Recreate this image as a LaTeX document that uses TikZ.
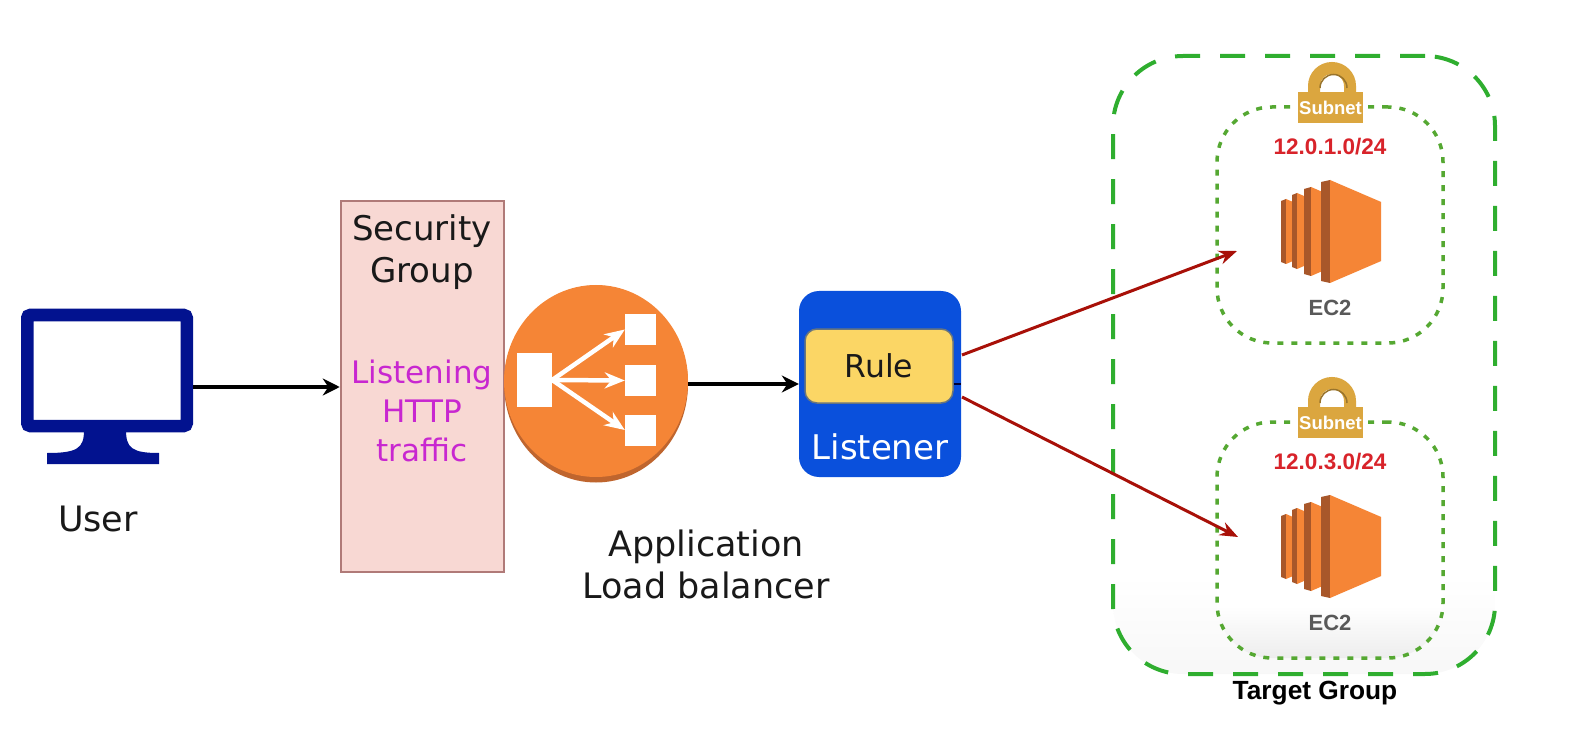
\documentclass[tikz,border=0pt]{standalone}
\usepackage{fontspec}
\setmainfont{DejaVu Sans}
\newfontfamily\labelfont{Liberation Sans}
\usetikzlibrary{shapes,shapes.geometric,arrows.meta,positioning}
\definecolor{monitorblue}{HTML}{02128F}
\definecolor{sgfill}{HTML}{F8D8D3}
\definecolor{sgline}{HTML}{B07A78}
\definecolor{sgtext}{HTML}{C827D0}
\definecolor{awsorange}{HTML}{F58536}
\definecolor{awsdark}{HTML}{A8572A}
\definecolor{listenerblue}{HTML}{0A50DC}
\definecolor{ruleyellow}{HTML}{FBD665}
\definecolor{lockgold}{HTML}{DBA63F}
\definecolor{tggreen}{HTML}{2FAE2F}
\definecolor{subnetgreen}{HTML}{55A832}
\definecolor{cidrred}{HTML}{D8232A}
\definecolor{linkred}{HTML}{A81008}
\pgfdeclareverticalshading{subnetclear}{100bp}{color(0bp)=(white); color(100bp)=(white)}
\pgfdeclareverticalshading{subnetfade}{100bp}{color(0bp)=(black!7); color(25bp)=(black!7); color(36bp)=(white); color(100bp)=(white)}
\pgfdeclareverticalshading{groupfade}{100bp}{color(0bp)=(black!3); color(25bp)=(black!3); color(33bp)=(white); color(100bp)=(white)}

\begin{document}
\begin{tikzpicture}
	[x=1pt,y=-1pt,every node/.style={inner sep=0pt},
	label34/.style={font=\fontsize{34}{42}\selectfont,text=black!90,align=center},
	label31/.style={font=\fontsize{31}{39}\selectfont,text=sgtext,align=center},
	blackarrow/.style={-{Stealth[length=17pt,width=17pt]},line width=3.2pt,black},
	redarrow/.style={-{Stealth[length=18pt,width=14pt]},line width=3pt,linkred},
	whitearrow/.style={-{Stealth[length=20pt,width=16pt]},line width=4.5pt,white},
	whitebox/.style={fill=white,minimum width=31pt,minimum height=31pt}]
	\useasboundingbox (0,0) rectangle (1582,751);
	% user
	\node (user) [draw=monitorblue,line width=12.5pt,rounded corners=3pt,minimum width=159.5pt,
		minimum height=111pt] at (107,370.5) {};
	\fill[monitorblue] (84,430) .. controls (84,448) and (78,453) .. (47,453) -- (47,464) -- (159,464)
		-- (159,453) .. controls (132,453) and (126,448) .. (126,430) -- cycle;
	\node (username) [label34,font=\fontsize{35}{42}\selectfont] at (98,519) {User};
	% security group
	\node (sg) [draw=sgline,fill=sgfill,line width=2.5pt,minimum width=163pt,minimum height=371pt] at (422.5,386.5) {};
	\node (sgname) [label34] at (422,252) {Security\\Group};
	\node (sgnote) [label31] at (422,411) {Listening\\HTTP\\traffic};
	\coordinate (sgin) at (sg.west |- 0,387);
	% load balancer
	\node (alb) [ellipse,fill=awsdark!70!awsorange,minimum width=184pt,minimum height=197pt] at (596,384) {};
	\node (albface) [ellipse,fill=awsorange,minimum width=184pt,minimum height=192pt] at (596,381) {};
	\node (albsrc) [whitebox,minimum width=35pt,minimum height=54pt] at (534.5,380) {};
	\node (albtop) [whitebox] at (640.5,329.5) {};
	\node (albmid) [whitebox] at (640.5,380.5) {};
	\node (albbot) [whitebox] at (640.5,430) {};
	\foreach \endNode in {albtop,albmid,albbot}
		\draw[whitearrow] (albsrc.east) -- (\endNode.west);
	\node (albname) [label34,font=\fontsize{35}{42}\selectfont] at (706,564) {Application\\Load balancer};
	% listener
	\node (listener) [fill=listenerblue,rounded corners=20pt,minimum width=162pt,minimum height=186pt] at (880,384) {};
	\node (rule) [draw=black!35!listenerblue!60!ruleyellow,fill=ruleyellow,line width=1.5pt,rounded corners=12pt,
		minimum width=148pt,minimum height=74pt] at (879,366) {};
	\node (rulename) [label34,font=\fontsize{31.5}{38}\selectfont] at (879,366) {Rule};
	\node (listenername) [label34,text=white] at (880,447) {Listener};
	\coordinate (rulestub) at (rule.east |- 0,384);
	\draw[line width=2.5pt,black!80!blue] (rulestub) -- (listener.east |- rulestub);
	% links in front
	\draw[blackarrow] (user.east |- sgin) -- (sgin);
	\draw[blackarrow] (alb.east) -- (listener.west);
	% target group
	\node (tg) [draw=tggreen,line width=4pt,dash pattern=on 25pt off 20pt,rounded corners=70pt,shading=groupfade,
		minimum width=382pt,minimum height=618pt] at (1304,365) {};
	\node (tgname) [font=\labelfont\bfseries\fontsize{26.3}{30}\selectfont] at (1315,693) {Target Group};
	% subnets
	\foreach \subnetId/\yOff/\netPart/\fadeName in {a/0/1/subnetclear,b/315/3/subnetfade}
	{
		\begin{scope}[shift={(0,\yOff)}]
			\node (subnet\subnetId) [draw=subnetgreen,line width=3.5pt,dash pattern=on 6pt off 8pt,rounded corners=55pt,
				shading=\fadeName,minimum width=226pt,minimum height=236pt] at (1330,225) {};
			\draw[lockgold,line width=12pt] (1314,95) -- (1314,86) arc[start angle=180,end angle=0,radius=18pt]
				-- (1350,95);
			\draw[lockgold!70!black,line width=1.5pt] (1320,88) arc[start angle=180,end angle=0,radius=13.5pt];
			\node (lock\subnetId) [fill=lockgold,minimum width=65pt,minimum height=31pt,text=white,
				font=\labelfont\bfseries\fontsize{18.5}{22}\selectfont] at (1330.5,107.5) {Subnet};
			\node (cidr\subnetId) [text=cidrred,font=\labelfont\bfseries\fontsize{22.5}{26}\selectfont] at (1330,147) {12.0.\netPart.0/24};
			% ec2 slabs
			\foreach \xa/\xb/\xc/\ya/\yb in {1281/1286/1292/199/264,1292/1297/1304/193/269,1304/1311/1321/187/276,1321/1330/1381/180/283}
			{
				\fill[awsdark] (\xa,\ya+2) -- (\xb,\ya) -- (\xb,\yb) -- (\xa,\yb-2) -- cycle;
				\fill[awsorange] (\xb,\ya) -- ({\xc},{\ya+0.43*(\xc-\xb)}) -- ({\xc},{\yb-0.43*(\xc-\xb)}) -- (\xb,\yb) -- cycle;
			}
			\node (ec2\subnetId) [text=black!65,font=\labelfont\bfseries\fontsize{22}{26}\selectfont] at (1330,308) {EC2};
		\end{scope}
	}
	% listener to instances
	\coordinate (outa) at (962,355);
	\coordinate (outb) at (962,397);
	\coordinate (ina) at (1237,251);
	\coordinate (inb) at (1238,537);
	\foreach \startNode/\endNode in {outa/ina,outb/inb}
		\draw[redarrow] (\startNode) -- (\endNode);
\end{tikzpicture}
\end{document}
